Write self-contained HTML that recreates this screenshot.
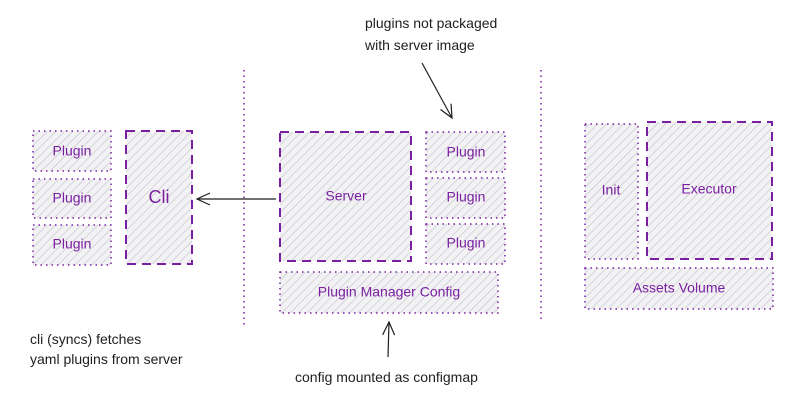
<!DOCTYPE html>
<html><head><meta charset="utf-8"><style>
html,body{margin:0;padding:0;background:#fff;}
svg{display:block}
text{font-family:"Liberation Sans",sans-serif;}
.p{fill:#7b1fa2;font-size:14px;text-anchor:middle;dominant-baseline:middle}
.b{fill:#1e1e1e;font-size:14px}
</style></head><body>
<svg width="800" height="403" viewBox="0 0 800 403">
<defs>
<pattern id="h" width="6" height="6" patternUnits="userSpaceOnUse" patternTransform="rotate(45)">
<rect width="6" height="6" fill="#f2f2f4"/>
<line x1="0" y1="0" x2="0" y2="6" stroke="#c4c6cc" stroke-width="1.3"/>
</pattern>
<marker id="a" markerWidth="16" markerHeight="14" refX="14" refY="7" orient="auto" markerUnits="userSpaceOnUse">
<path d="M1 1 L14 7 L1 13" fill="none" stroke="#1e1e1e" stroke-width="1.2"/>
</marker>
</defs>
<g fill="url(#h)" stroke="#7b1fa2">
<g stroke-width="1.5" stroke-dasharray="1.5 4">
<rect x="33" y="131" width="78" height="40"/>
<rect x="33" y="179" width="78" height="39"/>
<rect x="33" y="225" width="78" height="40"/>
<rect x="426" y="132" width="79" height="40"/>
<rect x="426" y="178" width="79" height="40"/>
<rect x="426" y="224" width="79" height="40"/>
<rect x="280" y="272" width="218" height="41"/>
<rect x="585" y="124" width="53" height="135"/>
<rect x="585" y="268" width="188" height="41"/>
</g>
<g stroke-width="2" stroke-dasharray="9 6">
<rect x="126" y="131" width="66" height="133"/>
<rect x="280" y="132" width="131" height="129"/>
<rect x="647" y="122" width="125" height="137"/>
</g>
</g>
<g stroke="#7b1fa2" stroke-width="1.5" stroke-dasharray="1.5 4">
<line x1="244" y1="70" x2="244" y2="325"/>
<line x1="541" y1="70" x2="541" y2="320"/>
</g>
<g stroke="#1e1e1e" stroke-width="1.2" fill="none">
<line x1="276" y1="199" x2="197" y2="199" marker-end="url(#a)"/>
<line x1="422" y1="63" x2="452" y2="118" marker-end="url(#a)"/>
<line x1="388" y1="357" x2="389" y2="322" marker-end="url(#a)"/>
</g>
<text class="p" x="72" y="152">Plugin</text>
<text class="p" x="72" y="199">Plugin</text>
<text class="p" x="72" y="245">Plugin</text>
<text class="p" x="159" y="198" style="font-size:18px">Cli</text>
<text class="p" x="346" y="197">Server</text>
<text class="p" x="466" y="153">Plugin</text>
<text class="p" x="466" y="198">Plugin</text>
<text class="p" x="466" y="244">Plugin</text>
<text class="p" x="389" y="293">Plugin Manager Config</text>
<text class="p" x="611" y="191">Init</text>
<text class="p" x="709" y="190">Executor</text>
<text class="p" x="679" y="289">Assets Volume</text>
<text class="b" x="365" y="28">plugins not packaged</text>
<text class="b" x="365" y="50">with server image</text>
<text class="b" x="30" y="344">cli (syncs) fetches</text>
<text class="b" x="30" y="364">yaml plugins from server</text>
<text class="b" x="295" y="382">config mounted as configmap</text>
</svg>
</body></html>
